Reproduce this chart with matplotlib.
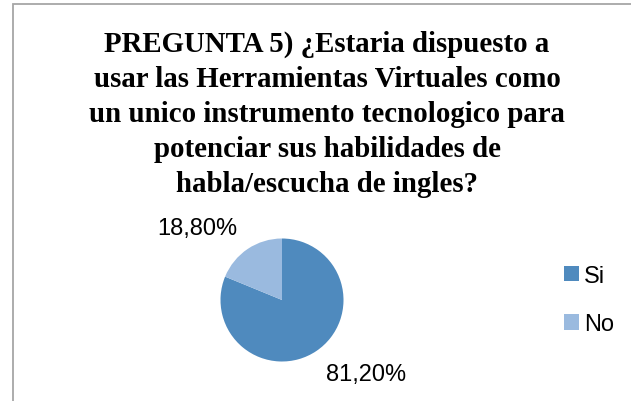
import matplotlib
matplotlib.use("Agg")
import matplotlib.pyplot as plt
from matplotlib.patches import Rectangle

categories = ["Si", "No"]
values = [81.2, 18.8]
value_labels = ["81,20%", "18,80%"]
colors = ["#4F8ABE", "#9ABADF"]
title = ("PREGUNTA 5) ¿Estaria dispuesto a\n"
         "usar las Herramientas Virtuales como\n"
         "un unico instrumento tecnologico para\n"
         "potenciar sus habilidades de\n"
         "habla/escucha de ingles?")

W, H = 631, 402
fig = plt.figure(figsize=(W / 100, H / 100), dpi=100)
fig.patch.set_facecolor("white")

# border
fig.patches.append(Rectangle((12.5 / W, -0.1), 1.2, 1 - 4.5 / H + 0.1,
                             transform=fig.transFigure, fill=False,
                             edgecolor="#A6A6A6", linewidth=1.3))

fig.text(327 / W, 1 - 114.5 / H, title, ha="center", va="center",
         fontsize=20.8, fontweight="bold", family="Liberation Serif",
         linespacing=1.38)

cx, cy, r = 282, 301, 61.5
ax = fig.add_axes([(cx - r) / W, (H - cy - r) / H, 2 * r / W, 2 * r / H])
wedges, _ = ax.pie(values, colors=colors, startangle=90, counterclock=False,
                   radius=1, wedgeprops=dict(linewidth=0))
ax.set_xlim(-1, 1)
ax.set_ylim(-1, 1)
ax.set_aspect("equal")
ax.axis("off")

label_pos = [(1.37, -1.20), (-1.38, 1.17)]
for lab, (x, y) in zip(value_labels, label_pos):
    ax.text(x, y, lab, ha="center", va="center", fontsize=17,
            family="Liberation Sans", color="#000000", clip_on=False)

fig.legend(wedges, categories, loc="center left",
           bbox_to_anchor=(564 / W, 1 - 301 / H), frameon=False,
           prop=dict(family="Liberation Sans", size=17),
           handlelength=0.62, handleheight=0.62, handletextpad=0.22,
           labelspacing=1.12, borderpad=0, borderaxespad=0)

fig.savefig("out.png", dpi=100)
